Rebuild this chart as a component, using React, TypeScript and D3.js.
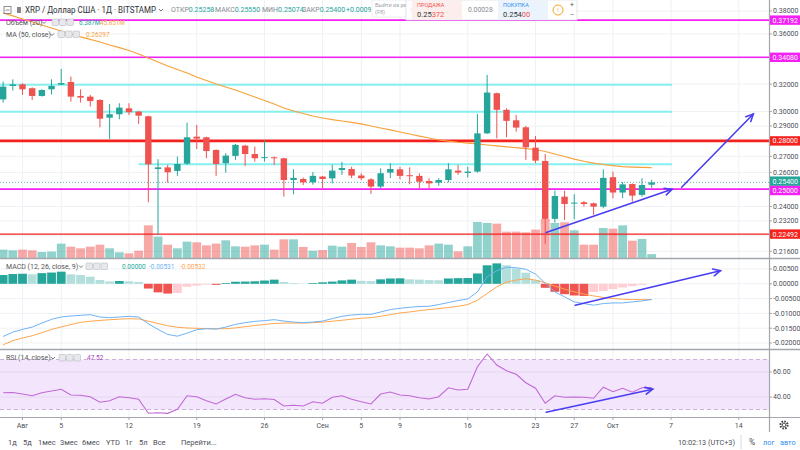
import * as d3 from 'd3';

const FONT = "Roboto, 'Liberation Sans', 'DejaVu Sans', sans-serif";

// daily candles, 30 Jul 2019 .. 5 Oct 2019 (XRP/USD, Bitstamp)
const firstDay = new Date(2019, 6, 30);

const openPrice = [
  0.3087, 0.3186, 0.3198, 0.3169, 0.3112, 0.3161, 0.3196, 0.3216, 0.3112, 0.3107,
  0.3083, 0.2957, 0.2981, 0.3023, 0.3000, 0.2967, 0.2621, 0.2631, 0.2609, 0.2654,
  0.2828, 0.2824, 0.2741, 0.2657, 0.2703, 0.2769, 0.2715, 0.2692, 0.2694, 0.2688,
  0.2554, 0.2560, 0.2540, 0.2575, 0.2564, 0.2615, 0.2621, 0.2581, 0.2558, 0.2515,
  0.2599, 0.2619, 0.2583, 0.2579, 0.2548, 0.2538, 0.2554, 0.2611, 0.2597, 0.2605,
  0.2850, 0.3132, 0.3012, 0.2939, 0.2891, 0.2756, 0.2671, 0.2331, 0.2456, 0.2418,
  0.2424, 0.2418, 0.2399, 0.2571, 0.2480, 0.2530, 0.2466, 0.25258,
];
const highPrice = [
  0.3219, 0.3236, 0.3206, 0.3176, 0.3161, 0.3236, 0.3316, 0.3257, 0.3161, 0.3120,
  0.3087, 0.3054, 0.3059, 0.3059, 0.3004, 0.2971, 0.2682, 0.2646, 0.2699, 0.2923,
  0.2907, 0.2828, 0.2745, 0.2720, 0.2780, 0.2774, 0.2763, 0.2806, 0.2699, 0.2692,
  0.2619, 0.2569, 0.2603, 0.2579, 0.2648, 0.2665, 0.2635, 0.2595, 0.2565, 0.2625,
  0.2657, 0.2635, 0.2631, 0.2595, 0.2565, 0.2565, 0.2657, 0.2646, 0.2635, 0.2983,
  0.3270, 0.3137, 0.3023, 0.2976, 0.2900, 0.2833, 0.2715, 0.2491, 0.2491, 0.2470,
  0.2431, 0.2422, 0.2619, 0.2605, 0.2542, 0.2534, 0.2565, 0.2555,
];
const lowPrice = [
  0.3064, 0.3152, 0.3120, 0.3083, 0.3107, 0.3124, 0.3193, 0.3071, 0.3064, 0.3035,
  0.2891, 0.2813, 0.2946, 0.2976, 0.2914, 0.2424, 0.2244, 0.2538, 0.2579, 0.2646,
  0.2747, 0.2688, 0.2579, 0.2599, 0.2678, 0.2640, 0.2667, 0.2667, 0.2646, 0.2456,
  0.2470, 0.2524, 0.2526, 0.2505, 0.2534, 0.2585, 0.2565, 0.2554, 0.2472, 0.2505,
  0.2565, 0.2558, 0.2528, 0.2505, 0.2505, 0.2519, 0.2540, 0.2585, 0.2569, 0.2599,
  0.2846, 0.2817, 0.2824, 0.2862, 0.2678, 0.2657, 0.2198, 0.2311, 0.2325, 0.2329,
  0.2399, 0.2353, 0.2390, 0.2447, 0.2447, 0.2427, 0.2456, 0.25074,
];
const closePrice = [
  0.3181, 0.3198, 0.3161, 0.3112, 0.3156, 0.3186, 0.3208, 0.3107, 0.3100, 0.3075,
  0.2950, 0.2981, 0.3028, 0.2995, 0.2971, 0.2650, 0.2631, 0.2601, 0.2652, 0.2824,
  0.2815, 0.2734, 0.2652, 0.2705, 0.2774, 0.2715, 0.2688, 0.2695, 0.2688, 0.2554,
  0.2567, 0.2540, 0.2579, 0.2560, 0.2611, 0.2627, 0.2581, 0.2565, 0.2515, 0.2595,
  0.2621, 0.2579, 0.2579, 0.2544, 0.2534, 0.2554, 0.2619, 0.2599, 0.2605, 0.2850,
  0.3137, 0.3012, 0.2935, 0.2889, 0.2758, 0.2673, 0.2331, 0.2460, 0.2414, 0.2422,
  0.2414, 0.2399, 0.2567, 0.2480, 0.2528, 0.2462, 0.2524, 0.2540,
];
// volume, millions
const volumeM = [
  13.8, 12.7, 13.8, 12.7, 9.9, 10.5, 23.7, 18.7, 16.0, 18.7,
  22.0, 16.0, 9.4, 7.7, 12.1, 53.9, 35.2, 22.0, 16.0, 27.0,
  25.9, 20.9, 23.7, 29.2, 19.3, 18.7, 20.9, 22.0, 13.8, 30.8,
  30.8, 18.2, 12.1, 13.2, 20.4, 18.7, 24.8, 18.2, 25.9, 20.9,
  19.3, 17.1, 17.1, 16.0, 20.9, 23.7, 22.0, 11.0, 19.3, 59.4,
  57.8, 56.7, 43.5, 43.5, 42.4, 46.8, 64.4, 57.8, 58.9, 45.7,
  22.0, 22.0, 49.5, 48.4, 53.9, 28.6, 31.4, 6.387,
];
const ma50 = [
  0.3782, 0.3756, 0.3729, 0.3703, 0.3677, 0.3651, 0.3625, 0.3600, 0.3575, 0.3554,
  0.3533, 0.3508, 0.3487, 0.3463, 0.3435, 0.3402, 0.3371, 0.3339, 0.3312, 0.3285,
  0.3254, 0.3227, 0.3201, 0.3178, 0.3156, 0.3130, 0.3104, 0.3079, 0.3054, 0.3025,
  0.3004, 0.2986, 0.2969, 0.2955, 0.2944, 0.2934, 0.2924, 0.2914, 0.2900, 0.2886,
  0.2873, 0.2859, 0.2846, 0.2832, 0.2819, 0.2806, 0.2798, 0.2791, 0.2786, 0.2780,
  0.2773, 0.2767, 0.2761, 0.2756, 0.2750, 0.2744, 0.2731, 0.2715, 0.2699, 0.2683,
  0.2669, 0.2657, 0.2649, 0.2642, 0.2636, 0.2633, 0.2631, 0.26297,
];
// MACD (12, 26, close, 9), in thousandths
const macdLine = [
  -17.79, -16.33, -15.41, -14.63, -13.27, -12.01, -11.22, -10.88, -10.65, -10.41,
  -11.22, -11.43, -11.22, -10.99, -11.22, -13.47, -15.41, -17.11, -17.69, -16.67,
  -15.51, -15.17, -15.31, -14.63, -13.71, -13.13, -12.69, -12.45, -12.11, -12.59,
  -12.93, -13.13, -12.93, -12.59, -11.77, -10.99, -10.54, -10.31, -10.31, -9.52,
  -8.71, -8.27, -7.93, -7.69, -7.59, -7.01, -6.33, -5.65, -5.10, -2.72,
  2.38, 4.42, 5.58, 5.44, 4.90, 3.30, 0.14, -2.72, -4.42, -6.12,
  -6.67, -7.24, -6.67, -6.46, -6.46, -6.12, -5.78, -5.31,
];
const signalLine = [
  -20.61, -19.22, -18.30, -17.55, -16.50, -15.41, -14.56, -13.78, -13.03, -12.65,
  -12.38, -12.14, -11.94, -11.80, -11.87, -12.62, -13.40, -14.18, -14.69, -14.93,
  -15.03, -15.14, -15.17, -15.17, -14.90, -14.49, -14.08, -13.74, -13.37, -13.27,
  -13.27, -13.27, -13.13, -12.96, -12.65, -12.31, -11.97, -11.63, -11.43, -10.99,
  -10.41, -9.86, -9.52, -9.05, -8.71, -8.37, -8.03, -7.59, -7.01, -5.54,
  -3.27, -1.02, 0.58, 1.26, 1.70, 1.26, 0.34, -0.78, -1.80, -2.72,
  -3.50, -4.08, -4.63, -4.97, -5.20, -5.31, -5.37, -5.32,
];
const macdHist = [
  2.96, 3.3, 3.4, 3.2, 3.6, 3.8, 4.1, 3.2, 2.96, 2.4,
  1.3, 0.8, 0.95, 0.85, 0.6, -1.6, -2.9, -3.3, -3.1, -1.0,
  -0.6, -0.25, -0.35, 0.25, 0.7, 0.75, 0.85, 1.1, 1.4, 0.6,
  0.25, 0.05, 0.25, 0.5, 0.75, 1.15, 1.4, 1.0, 0.9, 1.5,
  1.8, 1.85, 1.5, 1.4, 1.25, 1.2, 1.8, 1.9, 1.95, 3.5,
  6.25, 6.9, 6.25, 5.2, 3.75, 1.25, -1.35, -2.7, -3.5, -3.95,
  -4.1, -2.8, -2.4, -1.8, -1.25, -0.8, -0.35, 0.0,
];
const rsi14 = [
  43.4, 43.6, 42.4, 41.0, 43.4, 44.8, 46.2, 41.6, 41.4, 40.2,
  35.8, 37.0, 40.2, 39.4, 38.2, 27.0, 27.4, 26.9, 30.2, 41.0,
  40.2, 37.0, 34.4, 38.4, 42.2, 39.4, 38.2, 38.6, 38.0, 32.8,
  33.4, 32.8, 36.2, 35.0, 39.8, 41.0, 38.2, 36.2, 34.4, 42.4,
  44.0, 41.6, 41.0, 39.4, 38.4, 40.2, 47.4, 45.6, 46.2, 64.2,
  74.4, 65.6, 61.0, 58.2, 51.4, 47.0, 35.0, 41.0, 39.8, 40.0,
  39.8, 39.0, 47.8, 44.2, 47.0, 43.8, 47.4, 47.52,
];

const xTickDates = [
  new Date(2019, 7, 1), new Date(2019, 7, 5), new Date(2019, 7, 12), new Date(2019, 7, 19),
  new Date(2019, 7, 26), new Date(2019, 8, 1), new Date(2019, 8, 5), new Date(2019, 8, 9),
  new Date(2019, 8, 16), new Date(2019, 8, 23), new Date(2019, 8, 27), new Date(2019, 9, 1),
  new Date(2019, 9, 7), new Date(2019, 9, 14),
];
const xTickLabels = ['Авг', '5', '12', '19', '26', 'Сен', '5', '9', '16', '23', '27', 'Окт', '7', '14'];
const priceTicks = [0.38, 0.36, 0.34, 0.32, 0.30, 0.29, 0.28, 0.27, 0.26, 0.25, 0.24, 0.232, 0.224, 0.216];
const macdTicks = [0.005, 0, -0.005, -0.01, -0.015, -0.02];
const rsiTicks = [60, 40];

// drawn levels
const levelPrices = [0.37192, 0.3408, 0.28, 0.254, 0.25, 0.22492];
const levelColors = ['#f321f3', '#f321f3', '#f5211d', '#26a69a', '#f321f3', '#f5211d'];
const levelWidths = [1.6, 1.6, 2.6, 0.8, 1.6, 1.2];
const labelNudge = [0, 0, 0, -1.2, 1.4, 0];
const cyanPrices = [0.3195, 0.2999, 0.2650];
const cyanStart = [-3, -3, 14];
const cyanEnd = 69.1;
// arrows: [startDay, startValue, endDay, endValue] (days counted from 30 Jul)
const priceArrows = [[56.1, 0.2257, 69.1, 0.2499], [70.1, 0.2511, 77.5, 0.2983]];
const macdArrows = [[59.1, -0.00724, 74.1, 0.00442]];
const rsiArrows = [[56.1, 27.8, 67.1, 46.2]];

const UP = '#26a69a';
const DOWN = '#ef5350';
const AXIS_R = 769;

const days = d3.timeDay.range(firstDay, d3.timeDay.offset(firstDay, closePrice.length));
const dayAt = (n: number) => new Date(firstDay.getTime() + n * 86400000);

const x = d3.scaleTime().domain([new Date(2019, 7, 1), new Date(2019, 9, 14)]).range([22.5, 738.8]);
const yPrice = d3.scaleLog().domain([0.216, 0.3408]).range([251.3, 57.3]);
const yVol = d3.scaleLinear().domain([0, 100]).range([258, 197.4]);
const yMacd = d3.scaleLinear().domain([-0.02, 0.005]).range([343, 269]);
const yRsi = d3.scaleLinear().domain([40, 60]).range([397, 372]);

function Arrow({ x1, y1, x2, y2 }: { x1: number; y1: number; x2: number; y2: number }) {
  const a = Math.atan2(y2 - y1, x2 - x1);
  const L = 8;
  const p1 = [x2 - L * Math.cos(a - 0.45), y2 - L * Math.sin(a - 0.45)];
  const p2 = [x2 - L * Math.cos(a + 0.45), y2 - L * Math.sin(a + 0.45)];
  return (
    <g stroke="#4a3df2" strokeWidth={1.6} fill="none" strokeLinecap="round">
      <line x1={x1} y1={y1} x2={x2} y2={y2} />
      <polyline points={`${p1[0]},${p1[1]} ${x2},${y2} ${p2[0]},${p2[1]}`} />
    </g>
  );
}

function Icons({ x0, y0 }: { x0: number; y0: number }) {
  return (
    <g>
      {[0, 1, 2].map((i) => (
        <rect key={i} x={x0 + i * 7.5} y={y0 - 3.5} width={6.5} height={6.5} rx={1} fill="#e6e8ec" stroke="#b8bcc4" strokeWidth={0.6} />
      ))}
    </g>
  );
}

function Chevron({ cx, cy }: { cx: number; cy: number }) {
  return <polyline points={`${cx - 2},${cy - 1} ${cx},${cy + 1} ${cx + 2},${cy - 1}`} fill="none" stroke="#555" strokeWidth={0.8} />;
}

export default function App() {
  const barW = 6.4;
  const volW = 8.8;
  const maLine = d3.line<number>().x((_, i) => x(days[i])).y((d) => yPrice(d));
  const macdPath = d3.line<number>().x((_, i) => x(days[i])).y((d) => yMacd(d / 1000));
  const rsiPath = d3.line<number>().x((_, i) => x(days[i])).y((d) => yRsi(d));

  const labelY = levelPrices.map((p) => yPrice(p));

  return (
    <svg width={800} height={450} style={{ position: 'absolute', left: 0, top: 0, background: '#fff' }} fontFamily={FONT}>
      <defs>
        <clipPath id="mainClip"><rect x={0} y={0} width={AXIS_R} height={258} /></clipPath>
        <clipPath id="macdClip"><rect x={0} y={259} width={AXIS_R} height={90} /></clipPath>
        <clipPath id="rsiClip"><rect x={0} y={350} width={AXIS_R} height={67} /></clipPath>
        <clipPath id="hdrClip"><rect x={0} y={0} width={371} height={20} /></clipPath>
      </defs>

      {/* vertical grid */}
      {xTickDates.map((d, i) => (
        <line key={i} x1={x(d)} x2={x(d)} y1={0} y2={417} stroke="#eef1f5" strokeWidth={1} />
      ))}
      {/* price grid */}
      {priceTicks.map((t) => (
        <line key={t} x1={0} x2={AXIS_R} y1={yPrice(t)} y2={yPrice(t)} stroke="#eef1f5" />
      ))}
      {macdTicks.map((t) => (
        <line key={t} x1={0} x2={AXIS_R} y1={yMacd(t)} y2={yMacd(t)} stroke="#eef1f5" />
      ))}

      {/* RSI band */}
      <rect x={0} y={yRsi(70)} width={AXIS_R} height={yRsi(30) - yRsi(70)} fill="#f3e6fc" />
      {rsiTicks.map((t) => (
        <line key={t} x1={0} x2={AXIS_R} y1={yRsi(t)} y2={yRsi(t)} stroke="#e6d6f2" />
      ))}
      {[70, 30].map((t) => (
        <line key={t} x1={0} x2={AXIS_R} y1={yRsi(t)} y2={yRsi(t)} stroke="#c9b3d8" strokeDasharray="4,3" />
      ))}

      {/* main pane */}
      <g clipPath="url(#mainClip)">
        {volumeM.map((v, i) => (
          <rect key={i} x={x(days[i]) - volW / 2} y={yVol(v)} width={volW} height={yVol(0) - yVol(v)}
            fill={closePrice[i] >= openPrice[i] ? 'rgba(38,166,154,0.5)' : 'rgba(239,83,80,0.5)'} />
        ))}
        {cyanPrices.map((p, i) => (
          <line key={i} x1={x(dayAt(cyanStart[i]))} x2={x(dayAt(cyanEnd))} y1={yPrice(p)} y2={yPrice(p)} stroke="#86f0f0" strokeWidth={2} />
        ))}
        {levelPrices.map((p, i) => (
          <line key={i} x1={0} x2={AXIS_R} y1={yPrice(p)} y2={yPrice(p)} stroke={levelColors[i]}
            strokeWidth={levelWidths[i]} strokeDasharray={i === 3 ? '1,2' : undefined} />
        ))}
        <path d={maLine(ma50) || ''} fill="none" stroke="#f7a23b" strokeWidth={1.2} />
        {closePrice.map((c, i) => {
          const o = openPrice[i];
          const up = c >= o;
          const col = up ? UP : DOWN;
          const cx = x(days[i]);
          const top = yPrice(Math.max(o, c));
          const bot = yPrice(Math.min(o, c));
          return (
            <g key={i}>
              <line x1={cx} x2={cx} y1={yPrice(highPrice[i])} y2={yPrice(lowPrice[i])} stroke={col} strokeWidth={1} />
              <rect x={cx - barW / 2} y={top} width={barW} height={Math.max(1, bot - top)} fill={col} />
            </g>
          );
        })}
        {priceArrows.map((a, i) => (
          <Arrow key={i} x1={x(dayAt(a[0]))} y1={yPrice(a[1])} x2={x(dayAt(a[2]))} y2={yPrice(a[3])} />
        ))}
      </g>

      {/* MACD pane */}
      <g clipPath="url(#macdClip)">
        {macdHist.map((h, i) => {
          const v = h / 1000;
          const prev = i > 0 ? macdHist[i - 1] : h;
          const col = h >= 0 ? (h >= prev ? '#26a69a' : '#b2dfdb') : (h <= prev ? '#ef5350' : '#ffcdd2');
          return (
            <rect key={i} x={x(days[i]) - volW / 2} y={Math.min(yMacd(0), yMacd(v))} width={volW}
              height={Math.abs(yMacd(v) - yMacd(0))} fill={col} />
          );
        })}
        <path d={macdPath(signalLine) || ''} fill="none" stroke="#ffa64d" strokeWidth={1} />
        <path d={macdPath(macdLine) || ''} fill="none" stroke="#6fb3f5" strokeWidth={1} />
        {macdArrows.map((a, i) => (
          <Arrow key={i} x1={x(dayAt(a[0]))} y1={yMacd(a[1])} x2={x(dayAt(a[2]))} y2={yMacd(a[3])} />
        ))}
      </g>

      {/* RSI pane */}
      <g clipPath="url(#rsiClip)">
        <path d={rsiPath(rsi14) || ''} fill="none" stroke="#c068d6" strokeWidth={1.1} />
        {rsiArrows.map((a, i) => (
          <Arrow key={i} x1={x(dayAt(a[0]))} y1={yRsi(a[1])} x2={x(dayAt(a[2]))} y2={yRsi(a[3])} />
        ))}
      </g>

      {/* pane borders */}
      <line x1={0} x2={800} y1={258.5} y2={258.5} stroke="#a3a6ad" strokeWidth={1.4} />
      <line x1={0} x2={800} y1={349.5} y2={349.5} stroke="#a3a6ad" strokeWidth={1.4} />
      <line x1={0} x2={800} y1={417.5} y2={417.5} stroke="#a3a6ad" strokeWidth={1.2} />
      <line x1={AXIS_R + 0.5} x2={AXIS_R + 0.5} y1={0} y2={432} stroke="#a3a6ad" strokeWidth={1.2} />

      {/* price axis */}
      {priceTicks.map((t) => {
        const y = yPrice(t);
        if (labelY.some((ly) => Math.abs(ly - y) < 8)) return null;
        return (
          <g key={t}>
            <line x1={AXIS_R} x2={AXIS_R + 3} y1={y} y2={y} stroke="#a3a6ad" />
            <text x={AXIS_R + 4} y={y} dy="0.35em" fontSize={7} fill="#4c4f57">{t.toFixed(5)}</text>
          </g>
        );
      })}
      {levelPrices.map((p, i) => {
        const cy = yPrice(p) + labelNudge[i];
        return (
          <g key={i}>
            <rect x={AXIS_R + 1} y={cy - 4.7} width={31} height={9.4} fill={levelColors[i]} />
            <text x={AXIS_R + 3.5} y={cy} dy="0.35em" fontSize={7} fill="#fff">{p.toFixed(5)}</text>
          </g>
        );
      })}
      {/* MACD axis */}
      {macdTicks.map((t) => (
        <g key={t}>
          <line x1={AXIS_R} x2={AXIS_R + 3} y1={yMacd(t)} y2={yMacd(t)} stroke="#a3a6ad" />
          <text x={AXIS_R + 4} y={yMacd(t)} dy="0.35em" fontSize={7} fill="#4c4f57">{t.toFixed(5)}</text>
        </g>
      ))}
      {/* RSI axis */}
      {rsiTicks.map((t) => (
        <g key={t}>
          <line x1={AXIS_R} x2={AXIS_R + 3} y1={yRsi(t)} y2={yRsi(t)} stroke="#a3a6ad" />
          <text x={AXIS_R + 4} y={yRsi(t)} dy="0.35em" fontSize={7} fill="#4c4f57">{t.toFixed(2)}</text>
        </g>
      ))}

      {/* time axis */}
      {xTickDates.map((d, i) => (
        <g key={i}>
          <line x1={x(d)} x2={x(d)} y1={417} y2={420} stroke="#a3a6ad" />
          <text x={x(d)} y={425.5} dy="0.35em" fontSize={7} textAnchor="middle" fill="#4c4f57">{xTickLabels[i]}</text>
        </g>
      ))}
      <g transform="translate(784,425)" fill="none" stroke="#444" strokeWidth={1.2}>
        <circle r={3.6} strokeDasharray="1.6,1.2" strokeWidth={2} />
        <circle r={1.8} strokeWidth={0.9} />
      </g>

      {/* bottom toolbar */}
      {['1д', '5д', '1мес', '3мес', '6мес', 'YTD', '1г', '5л', 'Все'].map((s, i) => (
        <text key={s} x={[8, 23, 38, 60, 82, 106, 125, 139, 153][i]} y={442} dy="0.35em" fontSize={7.5} fill="#4c4f57">{s}</text>
      ))}
      <text x={181} y={442} dy="0.35em" fontSize={7.5} fill="#4c4f57">Перейти...</text>
      <text x={678} y={442} dy="0.35em" fontSize={7.3} fill="#4c4f57">10:02:13 (UTC+3)</text>
      <line x1={741} x2={741} y1={435} y2={449} stroke="#d5d8de" />
      <text x={749} y={442} dy="0.35em" fontSize={8.5} fill="#4c4f57">%</text>
      <text x={763} y={442} dy="0.35em" fontSize={7.3} fill="#2e90f0">лог</text>
      <text x={780} y={442} dy="0.35em" fontSize={7.3} fill="#2e90f0">авто</text>

      {/* legends */}
      <g fontSize={7}>
        <rect x={4} y={6.5} width={7} height={7} fill="none" stroke="#777" strokeWidth={0.8} />
        <line x1={5.5} x2={9.5} y1={10} y2={10} stroke="#777" strokeWidth={0.8} />
        <rect x={17} y={7} width={4} height={6} fill="#888" />
        <text x={25} y={10} dy="0.35em" fontSize={8.6} fill="#2f3137" textLength={131} lengthAdjust="spacingAndGlyphs">XRP / Доллар США · 1Д · BITSTAMP</text>
        <Chevron cx={161} cy={10} />
        <text x={171} y={10} dy="0.35em" fill="#8a8d94">ОТКР<tspan fill={UP}>0.25258</tspan></text>
        <text x={215} y={10} dy="0.35em" fill="#8a8d94">МАКС<tspan fill={UP}>0.25550</tspan></text>
        <text x={262} y={10} dy="0.35em" fill="#8a8d94">МИН<tspan fill={UP}>0.25074</tspan></text>
        <text x={302} y={10} dy="0.35em" fill="#8a8d94">ЗАКР<tspan fill={UP}>0.25400</tspan></text>
        <g clipPath="url(#hdrClip)">
          <text x={346} y={10} dy="0.35em" fill={UP}>+0.00093 (+0.37%)</text>
        </g>

        <text x={6} y={22.5} dy="0.35em" fill="#555">Объем (20)</text>
        <Chevron cx={44} cy={22.5} />
        <Icons x0={52} y0={22.5} />
        <text x={79} y={22.5} dy="0.35em" fontSize={6.3} fill={UP}>6.387M</text>
        <text x={100} y={22.5} dy="0.35em" fontSize={6.3} fill="#f7a23b">45.851M</text>

        <text x={6} y={34.5} dy="0.35em" fill="#555">MA (50, close)</text>
        <Chevron cx={52} cy={34.5} />
        <Icons x0={58} y0={34.5} />
        <text x={86} y={34.5} dy="0.35em" fontSize={6.5} fill="#f7a23b">0.26297</text>

        <text x={6} y={266.5} dy="0.35em" fill="#555">MACD (12, 26, close, 9)</text>
        <Chevron cx={81} cy={266.5} />
        <Icons x0={86} y0={266.5} />
        <text x={122} y={266.5} dy="0.35em" fontSize={6.5} fill={UP}>0.00000</text>
        <text x={149} y={266.5} dy="0.35em" fontSize={6.5} fill="#6fb3f5">-0.00531</text>
        <text x={180} y={266.5} dy="0.35em" fontSize={6.5} fill="#ffa64d">-0.00532</text>

        <text x={6} y={358} dy="0.35em" fill="#555">RSI (14, close)</text>
        <Chevron cx={53} cy={358} />
        <Icons x0={59} y0={358} />
        <text x={87} y={358} dy="0.35em" fontSize={6.5} fill="#ab47bc">47.52</text>
      </g>

      {/* tooltip + trading panel */}
      <rect x={372} y={0} width={34} height={17} fill="#fff" stroke="#e3e5e9" strokeWidth={0.6} />
      <text x={375} y={5} dy="0.35em" fontSize={5.5} fill="#a0a3aa">Выйти из ре</text>
      <text x={375} y={12.5} dy="0.35em" fontSize={5.5} fill="#a0a3aa">(F8)</text>
      <rect x={406} y={0} width={171} height={20} fill="#fff" stroke="#dde0e5" strokeWidth={0.8} />
      <rect x={412} y={0.5} width={50} height={19} fill="#fdeeee" />
      <rect x={498} y={0.5} width={50} height={19} fill="#ebf3fd" />
      <text x={408} y={10} dy="0.35em" fontSize={6} fill="#bbb">⋮</text>
      <text x={417} y={5.5} dy="0.35em" fontSize={5.5} fill="#ef5350">ПРОДАЖА</text>
      <text x={417} y={14.5} dy="0.35em" fontSize={7.5} fill="#333">0.25<tspan fill="#ef5350">372</tspan></text>
      <text x={468} y={10} dy="0.35em" fontSize={6.8} fill="#8a8d94">0.00028</text>
      <text x={503} y={5.5} dy="0.35em" fontSize={5.5} fill="#2e90f0">ПОКУПКА</text>
      <text x={503} y={14.5} dy="0.35em" fontSize={7.5} fill="#333">0.254<tspan fill="#ef5350">00</tspan></text>
      <circle cx={558} cy={10} r={5} fill="none" stroke="#f5a623" strokeWidth={1} />
      <text x={558} y={10} dy="0.35em" fontSize={6} textAnchor="middle" fill="#f5a623">!</text>
      <text x={572} y={5} dy="0.35em" fontSize={7} textAnchor="middle" fill="#555">+</text>
      <text x={572} y={15} dy="0.35em" fontSize={7} textAnchor="middle" fill="#555">−</text>
    </svg>
  );
}
